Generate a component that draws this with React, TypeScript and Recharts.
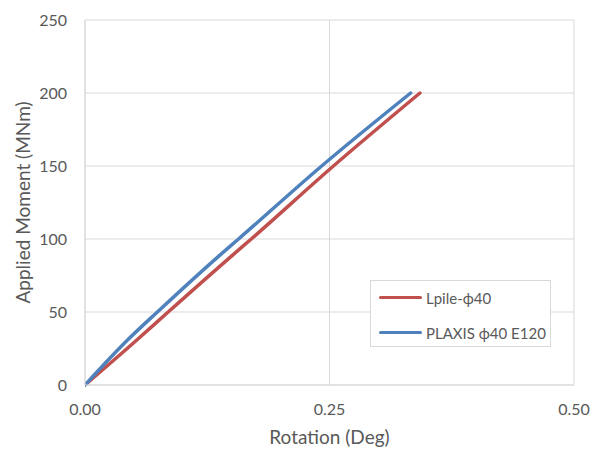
import { LineChart, Line, XAxis, YAxis, CartesianGrid, Label } from 'recharts';

// Lpile-ϕ40 curve (rotation in deg, moment in MNm)
const lpileRotation = [0, 0.053, 0.085, 0.151, 0.170, 0.254, 0.3425];
const lpileMoment = [0, 30.8, 50, 89, 100, 150, 200];

// PLAXIS ϕ40 E120 curve
const plaxisRotation = [0, 0.0435, 0.074, 0.138, 0.157, 0.242, 0.333];
const plaxisMoment = [0, 30.8, 50, 89, 100, 150, 200];

const xTicks = [0, 0.25, 0.5];
const yTicks = [0, 50, 100, 150, 200, 250];

const seriesInfo = [
    { name: 'Lpile-ϕ40', color: '#C0504D' },
    { name: 'PLAXIS ϕ40 E120', color: '#4F81BD' },
];

const lpileData = lpileRotation.map((r, i) => ({ rot: r, moment: lpileMoment[i] }));
const plaxisData = plaxisRotation.map((r, i) => ({ rot: r, moment: plaxisMoment[i] }));

const font = 'Lato, "Open Sans", sans-serif';
const textGray = '#595959';
const gridGray = '#d9d9d9';

function LegendBox() {
    return (
        <div
            style={{
                position: 'absolute',
                left: 370,
                top: 280,
                background: '#fff',
                border: `1px solid ${gridGray}`,
                width: 181,
                height: 67,
                boxSizing: 'border-box',
                paddingTop: 4,
                fontFamily: font,
                fontSize: 15,
                color: textGray,
            }}
        >
            {seriesInfo.map((s) => (
                <div key={s.name} style={{ display: 'flex', alignItems: 'center', height: 25, marginBottom: 10, paddingLeft: 8 }}>
                    <div style={{ width: 43, height: 3.5, background: s.color, borderRadius: 2, marginRight: 4 }} />
                    <span>{s.name}</span>
                </div>
            ))}
        </div>
    );
}

function YTitle(props: any) {
    const vb = props.viewBox;
    const cx = 22;
    const cy = vb.y + vb.height / 2;
    return (
        <text
            x={cx}
            y={cy}
            transform={`rotate(-90 ${cx} ${cy})`}
            textAnchor="middle"
            dominantBaseline="central"
            fill={textGray}
            fontSize={19}
            fontFamily={font}
        >
            Applied Moment (MNm)
        </text>
    );
}

export default function App() {
    return (
        <div style={{ position: 'absolute', left: 0, top: 0, width: 593, height: 452, background: '#fff' }}>
            <LineChart width={593} height={452} margin={{ top: 20, right: 19, bottom: 27, left: 40 }}>
                <CartesianGrid stroke={gridGray} strokeWidth={1} />
                <XAxis
                    type="number"
                    dataKey="rot"
                    domain={[0, 0.5]}
                    ticks={xTicks}
                    tickFormatter={(v) => v.toFixed(2)}
                    allowDataOverflow
                    height={40}
                    axisLine={{ stroke: gridGray }}
                    tickLine={false}
                    tickMargin={13}
                    tick={{ fill: textGray, fontSize: 16, fontFamily: font }}
                >
                    <Label
                        value="Rotation (Deg)"
                        position="bottom"
                        offset={6}
                        fill={textGray}
                        fontSize={19}
                        fontFamily={font}
                    />
                </XAxis>
                <YAxis
                    type="number"
                    dataKey="moment"
                    domain={[0, 250]}
                    ticks={yTicks}
                    width={45}
                    axisLine={{ stroke: gridGray }}
                    tickLine={false}
                    tickMargin={12}
                    tick={{ fill: textGray, fontSize: 16, fontFamily: font }}
                >
                    <Label content={<YTitle />} />
                </YAxis>
                <Line
                    data={lpileData}
                    dataKey="moment"
                    name={seriesInfo[0].name}
                    type="monotone"
                    stroke={seriesInfo[0].color}
                    strokeWidth={3.5}
                    strokeLinecap="round"
                    dot={false}
                    isAnimationActive={false}
                />
                <Line
                    data={plaxisData}
                    dataKey="moment"
                    name={seriesInfo[1].name}
                    type="monotone"
                    stroke={seriesInfo[1].color}
                    strokeWidth={3.5}
                    strokeLinecap="round"
                    dot={false}
                    isAnimationActive={false}
                />
            </LineChart>
            <LegendBox />
        </div>
    );
}
